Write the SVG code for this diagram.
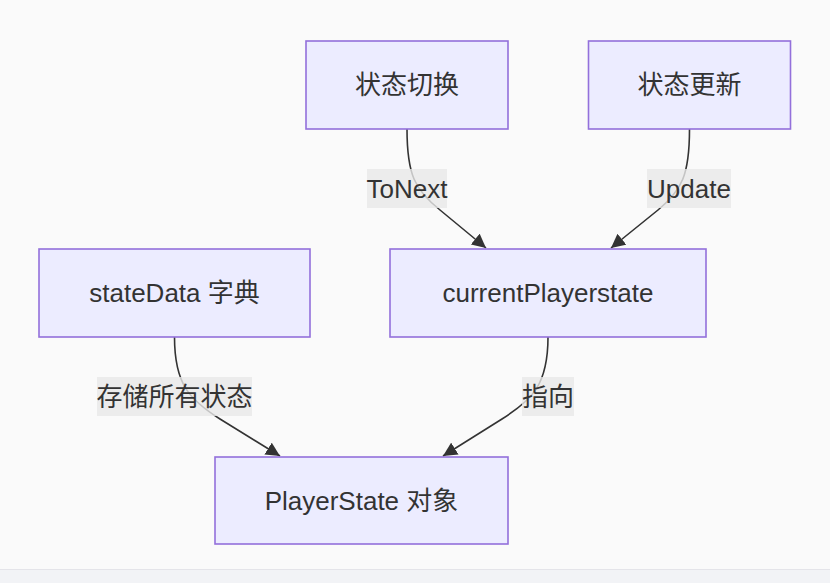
<svg xmlns="http://www.w3.org/2000/svg" width="830" height="583" viewBox="0 0 830 583">
  <style>
    .node rect { fill: #ECECFF; stroke: #9370DB; stroke-width: 1.6; }
    text { font-family: "Liberation Sans", "Noto Sans CJK SC", sans-serif; font-size: 26px; fill: #333333; text-anchor: middle; }
    .edge { fill: none; stroke: #333333; stroke-width: 1.6; }
    .lbl rect { fill: rgba(232,232,232,0.8); }
  </style>
  <defs>
    <marker id="arrow" viewBox="0 0 10 10" refX="10" refY="5" markerUnits="userSpaceOnUse" markerWidth="14" markerHeight="14" orient="auto">
      <path d="M0,0 L10,5 L0,10 z" fill="#333333"/>
    </marker>
  </defs>
  <rect x="0" y="0" width="830" height="583" fill="#fafafa"/>
  <rect x="0" y="569.5" width="830" height="14" fill="#f2f3f6"/>
  <line x1="0" y1="569.5" x2="830" y2="569.5" stroke="#e4e4e9" stroke-width="1"/>

  <g id="connectors">
    <path class="edge" d="M407,129 C407,175 415,190 440,210 L486,248" marker-end="url(#arrow)"/>
    <path class="edge" d="M689.5,129 C689.5,175 682,190 658,210 L611,248" marker-end="url(#arrow)"/>
    <path class="edge" d="M174.5,337 C174.5,385 190,400 220,419 L280,456" marker-end="url(#arrow)"/>
    <path class="edge" d="M548,337 C548,385 532,400 502,419 L443,456" marker-end="url(#arrow)"/>
  </g>

  <g id="edge-labels">
    <g class="lbl" id="label-tonext">
      <rect x="367" y="169" width="80" height="39"/>
      <text x="407" y="197.5">ToNext</text>
    </g>
    <g class="lbl" id="label-update">
      <rect x="647" y="169" width="84" height="39"/>
      <text x="689" y="197.5">Update</text>
    </g>
    <g class="lbl" id="label-store">
      <rect x="97" y="377" width="155" height="39"/>
      <text x="174.5" y="406">存储所有状态</text>
    </g>
    <g class="lbl" id="label-point">
      <rect x="522" y="377" width="52" height="39"/>
      <text x="548" y="406">指向</text>
    </g>
  </g>

  <g id="node-switch" class="node">
    <rect x="306" y="41" width="202" height="88"/>
    <text x="407" y="94">状态切换</text>
  </g>
  <g id="node-update" class="node">
    <rect x="588.5" y="41" width="202" height="88"/>
    <text x="689.5" y="94">状态更新</text>
  </g>
  <g id="node-statedata" class="node">
    <rect x="39" y="249" width="271" height="88"/>
    <text x="174.5" y="302">stateData 字典</text>
  </g>
  <g id="node-current" class="node">
    <rect x="390" y="249" width="316" height="88"/>
    <text x="548" y="302">currentPlayerstate</text>
  </g>
  <g id="node-playerstate" class="node">
    <rect x="215" y="457" width="293" height="87"/>
    <text x="361.5" y="509.5">PlayerState 对象</text>
  </g>
</svg>
